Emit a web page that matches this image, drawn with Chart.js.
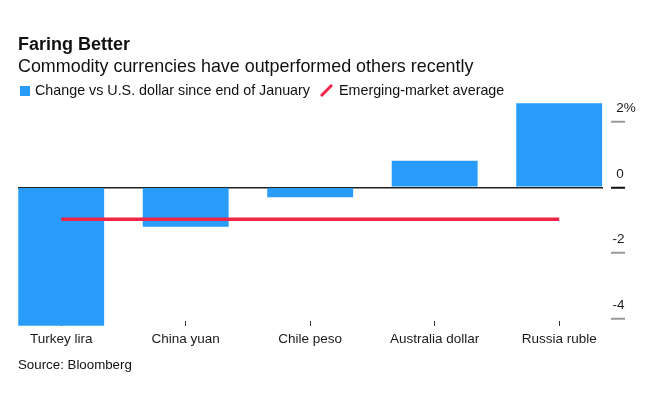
<!DOCTYPE html>
<html>
<head>
<meta charset="utf-8">
<script src="https://cdn.jsdelivr.net/npm/chart.js@4/dist/chart.umd.min.js"></script>
<style>
  html, body { margin: 0; padding: 0; background: #fff; }
  #wrap { position: relative; width: 654px; height: 395px; overflow: hidden; font-family: "Liberation Sans", Arial, sans-serif; color: #111; }
  #c { position: absolute; left: 0; top: 0; }
  .t { position: absolute; white-space: nowrap; }
  #title { left: 18px; top: 34.8px; font-size: 18px; line-height: 18px; font-weight: bold; }
  #sub { left: 18px; top: 56.5px; font-size: 17.9px; line-height: 18px; }
  #leg { left: 20px; top: 82.9px; font-size: 14.3px; line-height: 14.3px; }
  #leg .sq { display: inline-block; width: 10px; height: 10px; background: #289cf8; margin-right: 5px; vertical-align: -1px; }
  #leg svg { display: inline-block; vertical-align: -2px; margin: 0 6px 0 10px; }
  #src { left: 18px; top: 358px; font-size: 13.3px; line-height: 13.3px; }
</style>
</head>
<body>
<div id="wrap">
  <canvas id="c" width="654" height="395"></canvas>
  <div class="t" id="title">Faring Better</div>
  <div class="t" id="sub">Commodity currencies have outperformed others recently</div>
  <div class="t" id="leg"><span class="sq"></span>Change vs U.S. dollar since end of January<svg width="13" height="13" viewBox="0 0 13 13"><line x1="1" y1="12" x2="12" y2="1" stroke="#ef2547" stroke-width="3"/></svg>Emerging-market average</div>
  <div class="t" id="src">Source: Bloomberg</div>
</div>
<script>
const categories = ["Turkey lira", "China yuan", "Chile peso", "Australia dollar", "Russia ruble"];
const changeVsUSD = [-4.2, -1.2, -0.3, 0.81, 2.55];
const emergingMarketAverage = [-0.97, -0.97, -0.97, -0.97, -0.97];
const yTickValues = [2, 0, -2, -4];

const BLUE = "#289cf8";
const RED = "#ef2547";

new Chart(document.getElementById("c"), {
  type: "bar",
  data: {
    datasets: [
      {
        type: "line",
        label: "Emerging-market average",
        data: categories.map((c, i) => ({ x: i, y: emergingMarketAverage[i] })),
        borderColor: RED,
        borderWidth: 3.5,
        pointRadius: 0,
        fill: false,
        order: 0
      },
      {
        type: "bar",
        label: "Change vs U.S. dollar since end of January",
        data: categories.map((c, i) => ({ x: i, y: changeVsUSD[i] })),
        backgroundColor: BLUE,
        borderWidth: 0,
        barPercentage: 0.69,
        categoryPercentage: 1,
        clip: false,
        order: 1
      }
    ]
  },
  options: {
    responsive: false,
    animation: false,
    devicePixelRatio: 1,
    layout: { padding: { top: 103.3, left: 18, right: 0, bottom: 49 } },
    plugins: { legend: { display: false }, tooltip: { enabled: false }, title: { display: false } },
    scales: {
      x: {
        type: "linear",
        min: -0.347,
        max: 4.352,
        offset: false,
        afterBuildTicks: s => { s.ticks = categories.map((c, i) => ({ value: i })); },
        afterFit: s => { s.height = 25; },
        border: { display: false },
        grid: { display: true, offset: false, drawOnChartArea: false, drawTicks: true, tickLength: 5, tickColor: "#333", tickWidth: 1 },
        ticks: {
          padding: 5.5,
          color: "#1a1a1a",
          font: { family: "Liberation Sans", size: 13.5 },
          maxRotation: 0,
          autoSkip: false,
          callback: v => categories[v] ?? ""
        }
      },
      y: {
        position: "right",
        min: -4.057,
        max: 2.55,
        afterBuildTicks: s => { s.ticks = yTickValues.map(v => ({ value: v })); },
        afterFit: s => { s.width = 51; },
        border: { display: false },
        grid: {
          drawOnChartArea: true,
          color: ctx => (ctx.tick && ctx.tick.value === 0) ? "#222" : "rgba(0,0,0,0)",
          lineWidth: 1.5,
          drawTicks: true,
          tickLength: 22,
          tickColor: ctx => (ctx.tick && ctx.tick.value === 0) ? "#111" : "#999",
          tickWidth: 2,
          tickBorderDash: [0, 8, 14, 100]
        },
        ticks: {
          crossAlign: "near",
          padding: -12.5,
          labelOffset: -13.5,
          color: "#1a1a1a",
          font: { family: "Liberation Sans", size: 13.5 },
          callback: v => v === 2 ? " 2%" : (v < 0 ? String(v) : " " + v)
        }
      }
    }
  }
});
</script>
</body>
</html>
